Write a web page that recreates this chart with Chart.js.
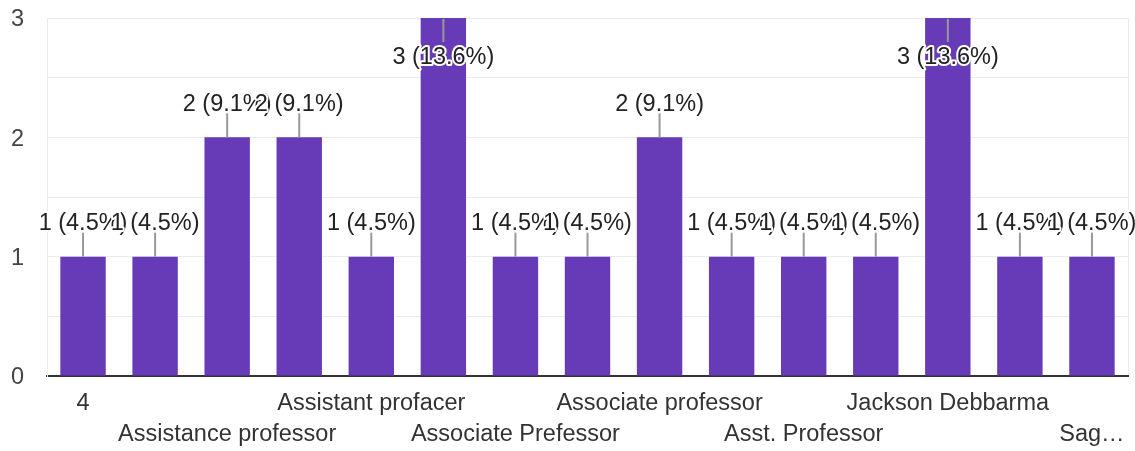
<!DOCTYPE html>
<html>
<head>
<meta charset="utf-8">
<script src="https://cdn.jsdelivr.net/npm/chart.js@4"></script>
<style>
  html, body { margin: 0; padding: 0; background: #fff; }
  #wrap { width: 1135px; height: 451px; }
</style>
</head>
<body>
<div id="wrap"><canvas id="responsesChart"></canvas></div>
<script>
// Categories as they appear in the source; odd ones are hidden there, so their text is unknown
const categories = [
    '4', '', 'Assistance professor', '', 'Assistant profacer', '',
    'Associate Prefessor', '', 'Associate professor', '', 'Asst. Professor', '',
    'Jackson Debbarma', '', 'Sag…'
];
const responses = [1, 1, 2, 2, 1, 3, 1, 1, 2, 1, 1, 1, 3, 1, 1];
const yTicks = [0, 1, 2, 3];

const FONT = '"Liberation Sans", Arial, sans-serif';
const total = responses.reduce((a, b) => a + b, 0);

// Draws "n (p%)" above each bar with a small leader line
const valueLabels = {
    id: 'valueLabels',
    afterDatasetsDraw(chart) {
        const { ctx, chartArea } = chart;
        const meta = chart.getDatasetMeta(0);
        ctx.save();
        ctx.font = '23.5px ' + FONT;
        ctx.textAlign = 'center';
        ctx.textBaseline = 'middle';
        meta.data.forEach((bar, i) => {
            const v = responses[i];
            const text = v + ' (' + (v / total * 100).toFixed(1) + '%)';
            // no room above a full-height bar, so the label goes inside it
            const inside = bar.y - 50 < chartArea.top;
            const lineEnd = inside ? bar.y + 24 : bar.y - 24;
            const textY = inside ? bar.y + 40 : bar.y - 33;

            ctx.strokeStyle = '#999';
            ctx.lineWidth = 2;
            ctx.beginPath();
            ctx.moveTo(bar.x, bar.y + (inside ? 1 : 0));
            ctx.lineTo(bar.x, lineEnd);
            ctx.stroke();

            ctx.lineWidth = 4;
            ctx.lineJoin = 'round';
            ctx.strokeStyle = '#fff';
            ctx.strokeText(text, bar.x, textY);
            ctx.fillStyle = '#222';
            ctx.fillText(text, bar.x, textY);
        });
        ctx.restore();
    }
};

new Chart(document.getElementById('responsesChart'), {
    type: 'bar',
    data: {
        labels: categories,
        datasets: [{
            data: responses,
            backgroundColor: '#673ab7',
            categoryPercentage: 1,
            barPercentage: 0.63
        }]
    },
    options: {
        responsive: true,
        maintainAspectRatio: false,
        animation: false,
        layout: { padding: { top: 18, right: 7, left: 0, bottom: 0 } },
        plugins: {
            legend: { display: false },
            tooltip: { enabled: false }
        },
        scales: {
            x: {
                afterFit: (scale) => {
                    scale.height = 75;
                    scale.paddingLeft = 0;
                    scale.paddingRight = 0;
                },
                border: { color: '#333', width: 2 },
                grid: {
                    drawTicks: false,
                    // only the right edge of the plot gets a line
                    color: (c) => c.type === 'scale' ? '#ebebeb' : 'transparent'
                },
                ticks: {
                    autoSkip: false,
                    maxRotation: 0,
                    padding: 12,
                    color: '#333',
                    font: { family: FONT, size: 23.5, lineHeight: '31px' },
                    callback: (value, i) => {
                        const label = categories[i];
                        if (!label) return '';
                        return (i / 2) % 2 === 0 ? [label] : ['', label];
                    }
                }
            },
            y: {
                min: 0,
                max: 3,
                afterFit: (scale) => {
                    scale.width = 47;
                    scale.paddingTop = 0;
                    scale.paddingBottom = 0;
                },
                border: { color: '#ebebeb', width: 1 },
                grid: { color: '#ebebeb', drawTicks: false },
                ticks: {
                    stepSize: 0.5,
                    padding: 23,
                    labelOffset: 2,
                    color: '#444',
                    font: { family: FONT, size: 23.5 },
                    callback: (value) => yTicks.includes(value) ? String(value) : ''
                }
            }
        }
    },
    plugins: [valueLabels]
});
</script>
</body>
</html>
